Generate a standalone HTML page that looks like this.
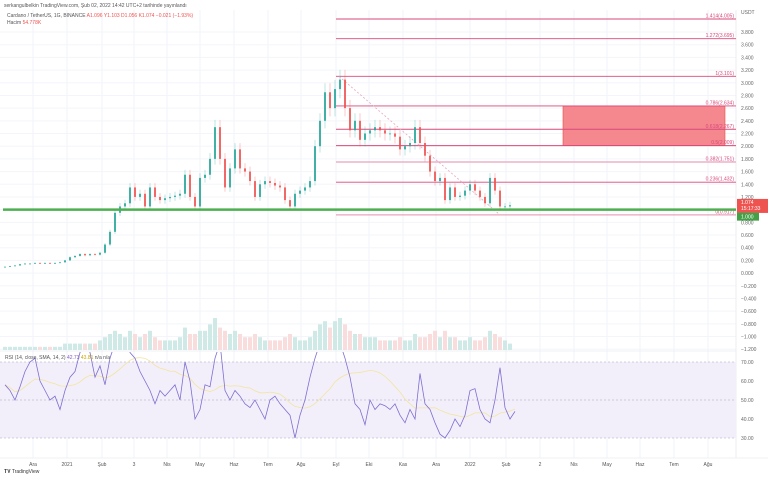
<!DOCTYPE html>
<html><head><meta charset="utf-8"><style>
body{margin:0;background:#fff;width:768px;height:477px;overflow:hidden;font-family:"Liberation Sans",sans-serif}
svg text{font-family:"Liberation Sans","Noto Sans CJK SC",sans-serif}
</style></head><body>
<svg id="c" width="768" height="477"></svg>
<script>
const closes=[0.10,0.11,0.12,0.14,0.15,0.15,0.16,0.15,0.16,0.15,0.16,0.17,0.20,0.25,0.27,0.30,0.28,0.30,0.29,0.32,0.45,0.65,0.95,1.05,1.10,1.35,1.20,1.25,1.05,1.35,1.20,1.15,1.18,1.20,1.22,1.25,1.55,1.20,1.05,1.50,1.55,1.80,2.30,1.80,1.35,1.65,1.95,1.65,1.60,1.45,1.20,1.40,1.45,1.42,1.38,1.35,1.15,1.05,1.25,1.30,1.35,1.45,2.00,2.40,2.85,2.60,2.90,3.05,2.60,2.25,2.40,2.10,2.20,2.25,2.30,2.25,2.20,2.20,2.15,1.95,2.00,2.05,2.30,2.05,1.85,1.60,1.45,1.50,1.15,1.35,1.20,1.22,1.30,1.40,1.30,1.20,1.10,1.50,1.30,1.05,1.05,1.07];
const volumes=[1,1,1,1,1,1,1,1,1,1,1,1,2,2,2,2,2,2,2,3,4,5,6,5,4,6,5,4,5,6,4,3,3,3,3,4,7,5,5,6,6,8,10,7,6,5,6,5,4,4,5,4,3,3,3,3,4,5,4,3,3,4,6,8,9,7,9,10,8,6,5,5,4,4,4,3,3,3,3,4,3,3,5,4,4,5,6,4,6,4,4,3,3,4,3,3,4,6,5,4,3,2];
const rsi=[58,55,50,57,65,70,72,60,55,50,52,45,55,62,65,75,80,75,62,68,58,72,80,80,85,75,72,65,60,55,48,55,52,55,58,50,70,60,40,45,58,57,72,80,55,50,55,52,48,46,50,45,40,50,52,48,45,42,30,42,50,62,72,80,88,82,90,80,72,62,48,45,37,50,45,48,47,45,48,42,38,45,40,64,48,45,38,32,30,34,40,36,42,55,56,45,40,38,50,67,46,40,44];
const priceTicks=[3.8,3.6,3.4,3.2,3.0,2.8,2.6,2.4,2.2,2.0,1.8,1.6,1.4,1.2,1.0,0.8,0.6,0.4,0.2,0,-0.2,-0.4,-0.6,-0.8,-1.0,-1.2];
const fibRatios=["1.414","1.272","1","0.786","0.618","0.5","0.382","0.236","0"];
const fibPrices=[4.005,3.695,3.101,2.634,2.267,2.009,1.751,1.432,0.917];
const rsiTicks=[70,60,50,40,30];
const monthLabels=["Ara","2021","Şub","3","Nis","May","Haz","Tem","Ağu","Eyl","Eki","Kas","Ara","2022","Şub","2","Nis","May","Haz","Tem","Ağu"];
const monthIdx=[5.6,12.4,19.4,25.8,32.4,39,45.8,52.6,59.2,66.2,72.8,79.6,86.2,93,100.2,107,113.8,120.4,127,133.8,140.6];
const NS='http://www.w3.org/2000/svg';
const svg=document.getElementById('c');
function el(t,a,p){const e=document.createElementNS(NS,t);for(const k in a)e.setAttribute(k,a[k]);(p||svg).appendChild(e);return e;}
const X=i=>5+i*5;
const Y=p=>32+(3.8-p)*63.44;
const RY=r=>400-(r-50)*1.9;
const VY=v=>350-v*3.2;
const R=736;
monthIdx.forEach(m=>{const g=el('line',{x1:X(m),x2:X(m),y1:10,y2:458,stroke:'#f0f3fa','stroke-width':1});});
priceTicks.forEach(p=>{const g=el('line',{x1:0,x2:R,y1:Y(p),y2:Y(p),stroke:'#f3f5fa','stroke-width':1});});
let t=el('text',{x:4,y:7,'font-size':5,fill:'#555'});t.textContent='serkangulbelkin TradingView.com, Şub 02, 2022 14:42 UTC+2 tarihinde yayınlandı';

t=el('text',{x:7,y:17,'font-size':5,fill:'#555'});t.innerHTML='Cardano / TetherUS, 1G, BINANCE <tspan fill="#ef5350">A1.096 Y1.103 D1.056 K1.074 −0.021 (−1.93%)</tspan>';

t=el('text',{x:7,y:24,'font-size':5,fill:'#555'});t.innerHTML='Hacim <tspan fill="#ef5350">54.778K</tspan>';

priceTicks.forEach(p=>{const a=el('text',{x:741,y:Y(p)+2,'font-size':5,fill:'#666'});a.textContent=(p<0?'−':'')+Math.abs(p).toFixed(3);});
t=el('text',{x:741,y:14,'font-size':5,fill:'#666'});t.textContent='USDT';
el('line',{x1:R,x2:R,y1:10,y2:458,stroke:'#e0e3eb','stroke-width':0.6});
volumes.forEach((v,i)=>{const up=i==0||closes[i]>=closes[i-1];const b=el('rect',{x:X(i)-2,y:VY(v),width:4,height:350-VY(v),fill:up?'#cfe9e6':'#f9dcdc'});});
let rc=el('rect',{x:563,y:Y(2.634),width:162,height:Y(2.009)-Y(2.634),fill:'#f47c82',stroke:'#e53935','stroke-width':0.6,opacity:0.9});

fibPrices.forEach((p,k)=>{const light=fibRatios[k]=='0.382'||fibRatios[k]=='0';const l=el('line',{x1:336,x2:R,y1:Y(p),y2:Y(p),stroke:light?'#e8a5bd':'#d8487a','stroke-width':light?1.2:0.9});
const tx=el('text',{x:734,y:Y(p)-1.5,'font-size':5,fill:'#d8487a','text-anchor':'end'});tx.textContent=fibRatios[k]+'('+p.toFixed(3)+')';});
let dl=el('line',{x1:X(66.8),y1:Y(3.101),x2:X(99),y2:Y(0.917),stroke:'#e8a5bd','stroke-width':0.8,'stroke-dasharray':'2,2'});

closes.forEach((c,i)=>{const o=i?closes[i-1]:c;const up=c>=o;const col=up?'#26a69a':'#ef5350';const hi=Math.max(o,c)*1.05,lo=Math.min(o,c)*0.95;
const w=el('line',{x1:X(i),x2:X(i),y1:Y(hi),y2:Y(lo),stroke:col,'stroke-width':0.6,opacity:0.5});
const b=el('rect',{x:X(i)-1,y:Y(Math.max(o,c)),width:2,height:Math.max(0.8,Math.abs(Y(o)-Y(c))),fill:col,opacity:0.85});});
let gl=el('line',{x1:3,x2:R,y1:Y(1.0),y2:Y(1.0),stroke:'#4caf50','stroke-width':2.5});
let pl=el('rect',{x:737,y:Y(1.074)-6,width:31,height:14,fill:'#ef5350'});
t=el('text',{x:741,y:Y(1.074)-1,'font-size':5,fill:'#fff'});t.textContent='1.074';
t=el('text',{x:741,y:Y(1.074)+5,'font-size':5,fill:'#fff'});t.textContent='15:17:33';
pl=el('rect',{x:737,y:Y(1.0)+3,width:22,height:8,fill:'#43a047'});
t=el('text',{x:741,y:Y(1.0)+9,'font-size':5,fill:'#fff'});t.textContent='1.000';
el('line',{x1:0,x2:R,y1:351,y2:351,stroke:'#e0e3eb','stroke-width':0.6});
let bg=el('rect',{x:0,y:RY(70),width:R,height:RY(30)-RY(70),fill:'#f3effa'});
[70,50,30].forEach(v=>{const l=el('line',{x1:0,x2:R,y1:RY(v),y2:RY(v),stroke:'#a8a2be','stroke-width':0.6,'stroke-dasharray':'2,2'});});
rsiTicks.forEach(v=>{const a=el('text',{x:741,y:RY(v)+2,'font-size':5,fill:'#666'});a.textContent=v.toFixed(2);});
const sma=rsi.map((v,i)=>{const s=rsi.slice(Math.max(0,i-13),i+1);return s.reduce((a,b)=>a+b,0)/s.length;});
const clip=el('clipPath',{id:'rc'});el('rect',{x:0,y:352,width:R,height:106},clip);
let sp=el('polyline',{points:sma.map((v,i)=>X(i)+','+RY(v)).join(' '),fill:'none',stroke:'#f2e4a0','stroke-width':0.8,'clip-path':'url(#rc)'});
let rp=el('polyline',{points:rsi.map((v,i)=>X(i)+','+RY(v)).join(' '),fill:'none',stroke:'#7e6fd0','stroke-width':0.8,'clip-path':'url(#rc)'});
t=el('text',{x:5,y:359,'font-size':5,fill:'#555'});t.innerHTML='RSI (14, close, SMA, 14, 2) <tspan fill="#7e57c2">42.73</tspan> <tspan fill="#c9a800">43.81</tspan> n/a n/a';
el('line',{x1:0,x2:768,y1:458,y2:458,stroke:'#e0e3eb','stroke-width':0.6});
monthLabels.forEach((m,k)=>{const a=el('text',{x:X(monthIdx[k]),y:466,'font-size':5,fill:'#555','text-anchor':'middle'});a.textContent=m;});
t=el('text',{x:4,y:473,'font-size':5,fill:'#333'});t.textContent='𝐓𝐕 TradingView';
</script>
</body></html>
